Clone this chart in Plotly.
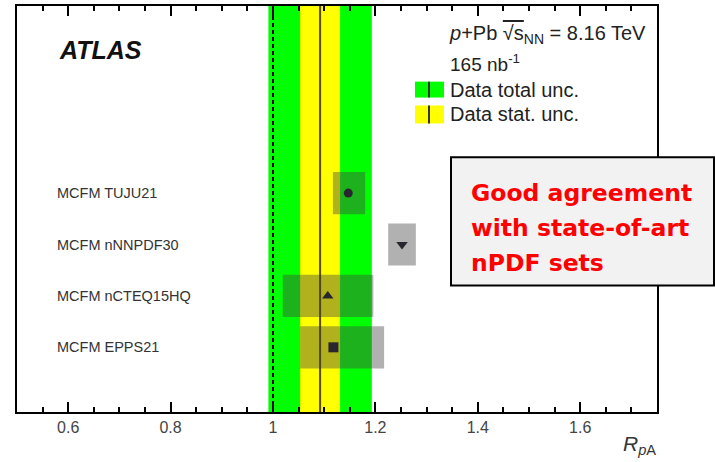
import plotly.graph_objects as go

# ---------------- data ----------------
models = ["MCFM TUJU21", "MCFM nNNPDF30", "MCFM nCTEQ15HQ", "MCFM EPPS21"]
model_pos = [4, 3, 2, 1]
model_center = [1.147, 1.252, 1.107, 1.118]
model_low = [1.117, 1.225, 1.019, 1.053]
model_high = [1.180, 1.279, 1.196, 1.217]
model_symbols = ["circle", "triangle-down", "triangle-up", "square"]

data_rpa = 1.092
data_stat = 0.039
data_tot = 0.101

x_tickvals = [0.6, 0.8, 1.0, 1.2, 1.4, 1.6]
x_ticktext = ["0.6", "0.8", "1", "1.2", "1.4", "1.6"]
x_range = [0.5, 1.75]
y_range = [-0.258, 7.639]

# ---------------- layout helpers ----------------
W, H = 715, 462
L, R, T, B = 17, 58, 4, 50
PW, PH = W - L - R, H - T - B


def px(x):
    return (x - L) / PW


def py(y):
    return (H - B - y) / PH


FONT = "Liberation Sans, Arial, sans-serif"
GREEN = "#00ff00"
YELLOW = "#ffff00"

fig = go.Figure()

# model uncertainty boxes
fig.add_trace(go.Bar(
    orientation="h",
    y=model_pos,
    x=[h - l for h, l in zip(model_high, model_low)],
    base=model_low,
    width=0.82,
    marker=dict(color="rgba(70,70,70,0.42)", line=dict(width=0)),
    hoverinfo="skip",
    showlegend=False,
))

# model central markers
for i in range(len(models)):
    fig.add_trace(go.Scatter(
        x=[model_center[i]], y=[model_pos[i]],
        mode="markers",
        marker=dict(symbol=model_symbols[i], size=10 if model_symbols[i] != "circle" else 9,
                    color="#2a2630"),
        showlegend=False, hoverinfo="skip",
    ))

shapes = []
# data bands
shapes.append(dict(type="rect", xref="x", yref="paper",
                   x0=data_rpa - data_tot, x1=data_rpa + data_tot, y0=0, y1=1,
                   fillcolor=GREEN, line=dict(width=0), layer="below"))
shapes.append(dict(type="rect", xref="x", yref="paper",
                   x0=data_rpa - data_stat, x1=data_rpa + data_stat, y0=0, y1=1,
                   fillcolor=YELLOW, line=dict(width=0), layer="below"))
shapes.append(dict(type="line", xref="x", yref="paper",
                   x0=data_rpa, x1=data_rpa, y0=0, y1=1,
                   line=dict(color="#5a4800", width=2), layer="below"))
# reference line at 1
shapes.append(dict(type="line", xref="x", yref="paper",
                   x0=1, x1=1, y0=0, y1=1,
                   line=dict(color="black", width=2, dash="4px,3px"), layer="above"))

# legend boxes
shapes.append(dict(type="rect", xref="paper", yref="paper",
                   x0=px(415), x1=px(444), y0=py(96), y1=py(80),
                   fillcolor=GREEN, line=dict(width=0)))
shapes.append(dict(type="line", xref="paper", yref="paper",
                   x0=px(429), x1=px(429), y0=py(96), y1=py(80),
                   line=dict(color="#333333", width=2)))
shapes.append(dict(type="rect", xref="paper", yref="paper",
                   x0=px(415), x1=px(444), y0=py(122), y1=py(104),
                   fillcolor=YELLOW, line=dict(width=0)))
shapes.append(dict(type="line", xref="paper", yref="paper",
                   x0=px(429), x1=px(429), y0=py(122), y1=py(104),
                   line=dict(color="#333333", width=2)))

# red comment box
shapes.append(dict(type="rect", xref="paper", yref="paper",
                   x0=px(451), x1=px(714), y0=py(285), y1=py(156),
                   fillcolor="#f2f2f2", line=dict(color="black", width=2), layer="above"))

annotations = []
annotations.append(dict(text="<b><i>ATLAS</i></b>", x=px(57), y=py(48), xref="paper", yref="paper",
                        xanchor="left", yanchor="middle", showarrow=False,
                        font=dict(family=FONT, size=25, color="#111111")))
annotations.append(dict(
    text="<i>p</i>+Pb <span style='text-decoration:overline'>√s</span><sub>NN</sub> = 8.16 TeV",
    x=px(447), y=py(33), xref="paper", yref="paper",
    xanchor="left", yanchor="middle", showarrow=False,
    font=dict(family=FONT, size=20, color="#222222")))
annotations.append(dict(text="165 nb<sup>-1</sup>", x=px(448), y=py(61), xref="paper", yref="paper",
                        xanchor="left", yanchor="middle", showarrow=False,
                        font=dict(family=FONT, size=19, color="#222222")))
annotations.append(dict(text="Data total unc.", x=px(448), y=py(88), xref="paper", yref="paper",
                        xanchor="left", yanchor="middle", showarrow=False,
                        font=dict(family=FONT, size=20, color="#222222")))
annotations.append(dict(text="Data stat. unc.", x=px(448), y=py(113), xref="paper", yref="paper",
                        xanchor="left", yanchor="middle", showarrow=False,
                        font=dict(family=FONT, size=20, color="#222222")))

for name, pos in zip(models, model_pos):
    annotations.append(dict(text=name, x=px(55), y=pos, xref="paper", yref="y",
                            xanchor="left", yanchor="middle", showarrow=False,
                            font=dict(family=FONT, size=14.5, color="#333333")))

annotations.append(dict(text="<i>R</i><sub><i>p</i>A</sub>", x=px(658), y=py(445),
                        xref="paper", yref="paper", xanchor="right", yanchor="middle",
                        showarrow=False, font=dict(family=FONT, size=21, color="#333333")))

red_lines = ["Good agreement", "with state-of-art", "nPDF sets"]
red_y = [192, 227, 262]
for t, yy in zip(red_lines, red_y):
    annotations.append(dict(text="<b>" + t + "</b>", x=px(469), y=py(yy), xref="paper", yref="paper",
                            xanchor="left", yanchor="middle", showarrow=False,
                            font=dict(family="DejaVu Sans, sans-serif", size=23.5, color="#ff0000")))

fig.update_layout(
    width=W, height=H,
    margin=dict(l=L, r=R, t=T, b=B, pad=0),
    paper_bgcolor="white", plot_bgcolor="white",
    shapes=shapes, annotations=annotations,
    showlegend=False,
    xaxis=dict(range=x_range, tickmode="array", tickvals=x_tickvals, ticktext=x_ticktext,
               ticks="inside", ticklen=10, tickwidth=1.5, tickcolor="black",
               minor=dict(dtick=0.05, tick0=0.5, ticks="inside", ticklen=5, tickwidth=1.5,
                          tickcolor="black", showgrid=False),
               showline=True, linecolor="black", linewidth=2, mirror="allticks",
               showgrid=False, zeroline=False, layer="above traces",
               tickfont=dict(family=FONT, size=16, color="#444444")),
    yaxis=dict(range=y_range, showticklabels=False, ticks="",
               showline=True, linecolor="black", linewidth=2, mirror=True,
               showgrid=False, zeroline=False),
)

fig.write_html("out.html")
